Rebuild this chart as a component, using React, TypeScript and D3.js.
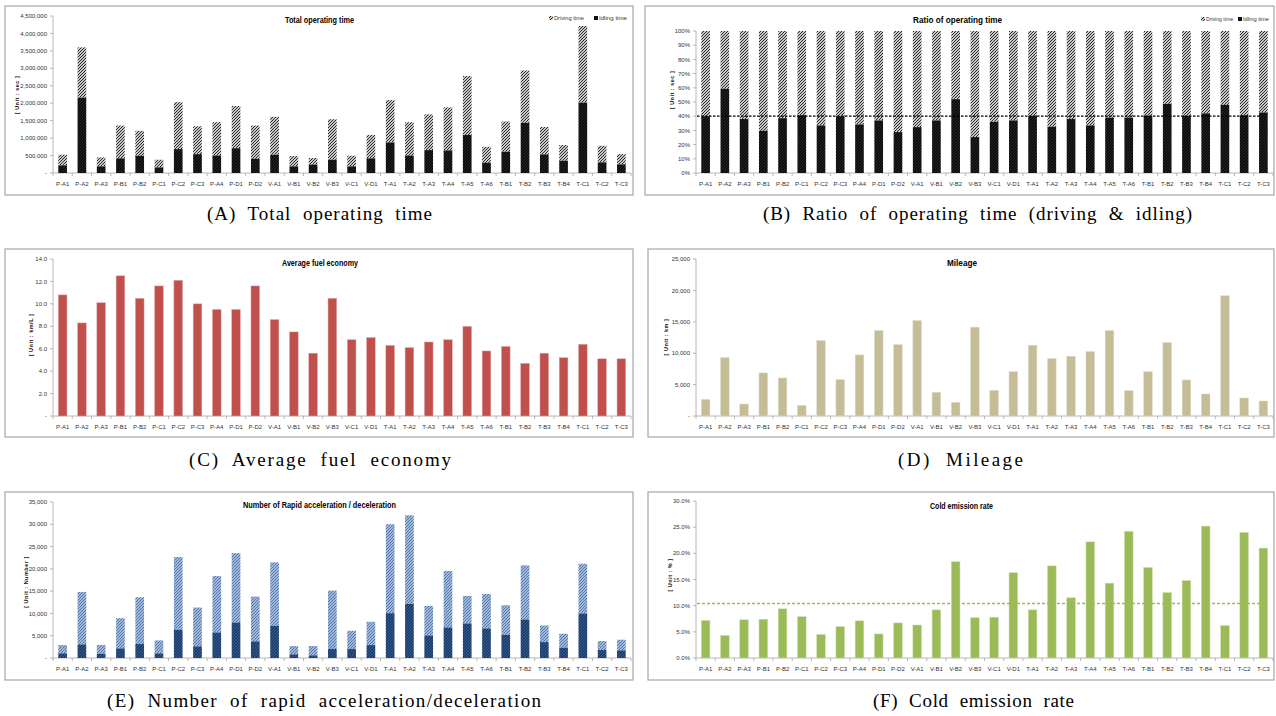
import React from "react";
import * as d3 from "d3";

// Vehicle identifiers along every x axis
const categories = [
  "P-A1", "P-A2", "P-A3", "P-B1", "P-B2", "P-C1", "P-C2", "P-C3", "P-A4", "P-D1", "P-D2",
  "V-A1", "V-B1", "V-B2", "V-B3", "V-C1", "V-D1",
  "T-A1", "T-A2", "T-A3", "T-A4", "T-A5", "T-A6", "T-B1", "T-B2", "T-B3", "T-B4", "T-C1", "T-C2", "T-C3",
];

// (A) total operating time [sec]: total = driving + idling
const totalTime = [
  523000, 3600000, 447000, 1360000, 1210000, 380000, 2030000, 1340000, 1456000, 1920000, 1360000,
  1610000, 485000, 430000, 1540000, 495000, 1090000,
  2090000, 1456000, 1680000, 1880000, 2780000, 750000, 1475000, 2940000, 1320000, 800000, 4215000, 780000, 542000,
];
const idlingTime = [
  219000, 2160000, 190000, 420000, 495000, 160000, 685000, 540000, 500000, 710000, 410000,
  523000, 190000, 240000, 380000, 190000, 420000,
  875000, 500000, 656000, 647000, 1090000, 295000, 610000, 1437000, 533000, 352000, 2017000, 305000, 247000,
];

// (B) idling share of operating time [%]
const idlingRatio = [
  40.0, 59.3, 38.0, 29.7, 38.6, 40.7, 33.5, 40.0, 34.2, 37.0, 28.8,
  32.3, 37.0, 52.0, 25.3, 36.0, 37.0,
  40.3, 32.6, 38.0, 33.5, 39.0, 39.0, 40.3, 48.7, 40.3, 42.0, 48.0, 40.7, 42.6,
];
const idlingRatioRef = 40;

// (C) average fuel economy [km/L]
const fuelEconomy = [
  10.8, 8.3, 10.1, 12.5, 10.5, 11.6, 12.1, 10.0, 9.5, 9.5, 11.6,
  8.6, 7.5, 5.6, 10.5, 6.8, 7.0,
  6.3, 6.1, 6.6, 6.8, 8.0, 5.8, 6.2, 4.7, 5.6, 5.2, 6.4, 5.1, 5.1,
];

// (D) mileage [km]
const mileage = [
  2660, 9310, 1915, 6860, 6060, 1700, 12020, 5800, 9730, 13620, 11380,
  15210, 3780, 2180, 14150, 4100, 7070,
  11280, 9150, 9520, 10270, 13620, 4040, 7070, 11700, 5740, 3510, 19150, 2870, 2390,
];

// (E) number of rapid acceleration / deceleration events
const rapidTotal = [
  2900, 14820, 2900, 8940, 13630, 3950, 22640, 11320, 18390, 23530, 13780,
  21450, 2680, 2680, 15120, 6110, 8120,
  30010, 32020, 11690, 19510, 13930, 14370, 11840, 20780, 7300, 5440, 21150, 3800, 4100,
];
const rapidLower = [
  1040, 3050, 970, 2160, 3130, 1040, 6330, 2610, 5730, 7970, 3720,
  7220, 820, 600, 2010, 2010, 2900,
  10050, 12140, 5060, 6850, 7750, 6630, 5210, 8640, 3570, 2310, 9980, 1790, 1710,
];

// (F) cold emission rate [%]
const coldEmission = [
  7.2, 4.3, 7.3, 7.4, 9.4, 7.9, 4.5, 6.0, 7.1, 4.6, 6.7,
  6.3, 9.2, 18.4, 7.7, 7.8, 16.3,
  9.2, 17.6, 11.5, 22.2, 14.3, 24.2, 17.3, 12.5, 14.8, 25.2, 6.2, 24.0, 21.0,
];
const coldEmissionAvg = 10.4;

const tickA = [0, 500000, 1000000, 1500000, 2000000, 2500000, 3000000, 3500000, 4000000, 4500000];
const tickB = [0, 10, 20, 30, 40, 50, 60, 70, 80, 90, 100];
const tickC = [0, 2, 4, 6, 8, 10, 12, 14];
const tickD = [0, 5000, 10000, 15000, 20000, 25000];
const tickE = [0, 5000, 10000, 15000, 20000, 25000, 30000, 35000];
const tickF = [0, 5, 10, 15, 20, 25, 30];

const FONT = "'Liberation Sans Narrow', 'Arial Narrow', 'Liberation Sans', Arial, sans-serif";
const SERIF = "'Liberation Serif', 'Times New Roman', serif";
const AXIS = "#a6a6a6";
const TXT = "#333";

const comma = d3.format(",");
const dashZero = (f: (v: number) => string) => (v: number) => (v === 0 ? "-" : f(v));

type PanelProps = {
  box: [number, number, number, number];
  xRange: [number, number];
  yBottom: number;
  yTop: number;
  max: number;
  ticks: number[];
  fmt: (v: number) => string;
  title: string;
  titleX0: number;
  titleX1: number;
  titleY: number;
  unit: string;
  unitX: number;
  unitY: number;
  children: (x: d3.ScaleBand<string>, y: d3.ScaleLinear<number, number>) => React.ReactNode;
};

function Panel(p: PanelProps) {
  const x = d3.scaleBand<string>().domain(categories).range(p.xRange).paddingInner(0.55).paddingOuter(0.275);
  const y = d3.scaleLinear().domain([0, p.max]).range([p.yBottom, p.yTop]);
  const [bx0, by0, bx1, by1] = p.box;
  const step = x.step();
  const x0 = p.xRange[0];
  return (
    <g>
      <rect x={bx0} y={by0} width={bx1 - bx0} height={by1 - by0} fill="#fff" stroke={AXIS} strokeWidth={1.2} />
      {/* y axis */}
      <line x1={x0} x2={x0} y1={p.yTop} y2={p.yBottom} stroke={AXIS} strokeWidth={0.8} />
      {p.ticks.map((t) => (
        <g key={t}>
          <line x1={x0 - 3} x2={x0} y1={y(t)} y2={y(t)} stroke={AXIS} strokeWidth={0.8} />
          <text x={x0 - 6} y={y(t)} dy="0.35em" textAnchor="end" fontSize={6} fill={TXT} fontFamily={FONT}>
            {p.fmt(t)}
          </text>
        </g>
      ))}
      {/* x axis */}
      <line x1={x0} x2={p.xRange[1]} y1={p.yBottom} y2={p.yBottom} stroke={AXIS} strokeWidth={0.8} />
      {d3.range(categories.length + 1).map((i) => (
        <line key={i} x1={x0 + i * step} x2={x0 + i * step} y1={p.yBottom} y2={p.yBottom + 3} stroke={AXIS} strokeWidth={0.8} />
      ))}
      {categories.map((c) => (
        <text key={c} x={(x(c) as number) + x.bandwidth() / 2} y={p.yBottom + 11} dy="0.35em" textAnchor="middle" fontSize={6} fill={TXT} fontFamily={FONT}>
          {c}
        </text>
      ))}
      {p.children(x, y)}
      <text
        x={p.titleX0}
        y={p.titleY}
        dy="0.35em"
        textLength={p.titleX1 - p.titleX0}
        lengthAdjust="spacingAndGlyphs"
        fontSize={9.5}
        fontWeight="bold"
        fill="#000"
        fontFamily={FONT}
      >
        {p.title}
      </text>
      <text
        transform={`translate(${p.unitX},${p.unitY}) rotate(-90)`}
        dy="0.35em"
        textAnchor="middle"
        fontSize={5.5}
        fontWeight="bold"
        letterSpacing={0.5}
        fill="#111"
        fontFamily={FONT}
      >
        {p.unit}
      </text>
    </g>
  );
}

function Legend({ x1, w1, x2, w2, y }: { x1: number; w1: number; x2: number; w2: number; y: number }) {
  return (
    <g fontFamily={FONT} fontSize={6} fill={TXT}>
      <rect x={x1} y={y - 2} width={4} height={4} fill="url(#pDrive)" />
      <text x={x1 + 5} y={y} dy="0.35em" textLength={w1} lengthAdjust="spacingAndGlyphs">Driving time</text>
      <rect x={x2} y={y - 2} width={4} height={4} fill="#111" />
      <text x={x2 + 5} y={y} dy="0.35em" textLength={w2} lengthAdjust="spacingAndGlyphs">Idling time</text>
    </g>
  );
}

const captions = [
  { text: "(A)  Total  operating  time", x0: 207, x1: 432, y: 213 },
  { text: "(B)  Ratio  of  operating  time  (driving  &  idling)", x0: 763, x1: 1192, y: 213 },
  { text: "(C)  Average  fuel  economy", x0: 189, x1: 451, y: 459 },
  { text: "(D)  Mileage", x0: 898, x1: 1023, y: 459 },
  { text: "(E)  Number  of  rapid  acceleration/deceleration", x0: 107, x1: 541, y: 700 },
  { text: "(F)  Cold  emission  rate", x0: 873, x1: 1074, y: 700 },
];

// diagonal hatch path for a 3px tile
const HATCH = "M-1,1 l2,-2 M0,3 l3,-3 M2,4 l2,-2";

export default function App() {
  const LEFT: [number, number] = [53, 631];
  const RIGHT: [number, number] = [696, 1273];
  return (
    <div style={{ position: "absolute", left: 0, top: 0, width: 1276, height: 716, background: "#fff" }}>
      <svg width={1276} height={716} style={{ display: "block" }}>
        <defs>
          <pattern id="pDrive" width={3} height={3} patternUnits="userSpaceOnUse">
            <rect width={3} height={3} fill="#c8c8c8" />
            <path d={HATCH} stroke="#2a2a2a" strokeWidth={1} />
          </pattern>
          <pattern id="pIdle" width={3} height={3} patternUnits="userSpaceOnUse">
            <rect width={3} height={3} fill="#0c0c0c" />
            <path d={HATCH} stroke="#3a3a3a" strokeWidth={0.6} />
          </pattern>
          <pattern id="pAccLight" width={3} height={3} patternUnits="userSpaceOnUse">
            <rect width={3} height={3} fill="#c6d4e9" />
            <path d={HATCH} stroke="#4a73ad" strokeWidth={1.1} />
          </pattern>
          <pattern id="pAccDark" width={3} height={3} patternUnits="userSpaceOnUse">
            <rect width={3} height={3} fill="#1d3d6a" />
            <path d={HATCH} stroke="#3d66a1" strokeWidth={0.8} />
          </pattern>
        </defs>

        {/* (A) Total operating time */}
        <Panel
          box={[5, 6, 633, 195]}
          xRange={LEFT}
          yBottom={173}
          yTop={16}
          max={4500000}
          ticks={tickA}
          fmt={dashZero(comma)}
          title="Total operating time"
          titleX0={285}
          titleX1={354}
          titleY={20}
          unit="[ Unit : sec ]"
          unitX={17}
          unitY={95}
        >
          {(x, y) =>
            categories.map((c, i) => (
              <g key={c}>
                <rect x={x(c)} width={x.bandwidth()} y={y(totalTime[i])} height={y(idlingTime[i]) - y(totalTime[i])} fill="url(#pDrive)" />
                <rect x={x(c)} width={x.bandwidth()} y={y(idlingTime[i])} height={y(0) - y(idlingTime[i])} fill="url(#pIdle)" />
              </g>
            ))
          }
        </Panel>
        <Legend x1={549} w1={30} x2={594} w2={28} y={18} />

        {/* (B) Ratio of operating time */}
        <Panel
          box={[645, 6, 1274, 195]}
          xRange={RIGHT}
          yBottom={173}
          yTop={31}
          max={100}
          ticks={tickB}
          fmt={(v) => `${v}%`}
          title="Ratio of operating time"
          titleX0={913}
          titleX1={1002}
          titleY={20}
          unit="[ Unit : sec ]"
          unitX={672}
          unitY={90}
        >
          {(x, y) => (
            <g>
              {categories.map((c, i) => (
                <g key={c}>
                  <rect x={x(c)} width={x.bandwidth()} y={y(100)} height={y(idlingRatio[i]) - y(100)} fill="url(#pDrive)" />
                  <rect x={x(c)} width={x.bandwidth()} y={y(idlingRatio[i])} height={y(0) - y(idlingRatio[i])} fill="url(#pIdle)" />
                </g>
              ))}
              <line x1={697} x2={1261} y1={y(idlingRatioRef)} y2={y(idlingRatioRef)} stroke="#000" strokeWidth={1.2} strokeDasharray="2.5,1.5" />
            </g>
          )}
        </Panel>
        <Legend x1={1201} w1={27} x2={1238} w2={26} y={19} />

        {/* (C) Average fuel economy */}
        <Panel
          box={[5, 249, 633, 437]}
          xRange={LEFT}
          yBottom={416}
          yTop={259}
          max={14}
          ticks={tickC}
          fmt={dashZero(d3.format(".1f"))}
          title="Average fuel economy"
          titleX0={282}
          titleX1={358}
          titleY={263}
          unit="[ Unit : km/L ]"
          unitX={31}
          unitY={335}
        >
          {(x, y) =>
            categories.map((c, i) => (
              <rect key={c} x={x(c)} width={x.bandwidth()} y={y(fuelEconomy[i])} height={y(0) - y(fuelEconomy[i])} fill="#c0504d" stroke="#e3a9a7" strokeWidth={0.5} />
            ))
          }
        </Panel>

        {/* (D) Mileage */}
        <Panel
          box={[648, 249, 1274, 437]}
          xRange={RIGHT}
          yBottom={416}
          yTop={259}
          max={25000}
          ticks={tickD}
          fmt={dashZero(comma)}
          title="Mileage"
          titleX0={947}
          titleX1={977}
          titleY={263}
          unit="[ Unit : km ]"
          unitX={666}
          unitY={337}
        >
          {(x, y) =>
            categories.map((c, i) => (
              <rect key={c} x={x(c)} width={x.bandwidth()} y={y(mileage[i])} height={y(0) - y(mileage[i])} fill="#c4bd97" stroke="#e2ddc8" strokeWidth={0.5} />
            ))
          }
        </Panel>

        {/* (E) Number of rapid acceleration / deceleration */}
        <Panel
          box={[5, 492, 633, 680]}
          xRange={LEFT}
          yBottom={658}
          yTop={502}
          max={35000}
          ticks={tickE}
          fmt={dashZero(comma)}
          title="Number of Rapid acceleration / deceleration"
          titleX0={243}
          titleX1={396}
          titleY={505}
          unit="[ Unit : Number ]"
          unitX={26}
          unitY={582}
        >
          {(x, y) =>
            categories.map((c, i) => (
              <g key={c}>
                <rect x={x(c)} width={x.bandwidth()} y={y(rapidTotal[i])} height={y(rapidLower[i]) - y(rapidTotal[i])} fill="url(#pAccLight)" />
                <rect x={x(c)} width={x.bandwidth()} y={y(rapidLower[i])} height={y(0) - y(rapidLower[i])} fill="url(#pAccDark)" />
              </g>
            ))
          }
        </Panel>

        {/* (F) Cold emission rate */}
        <Panel
          box={[648, 492, 1274, 680]}
          xRange={RIGHT}
          yBottom={658}
          yTop={501}
          max={30}
          ticks={tickF}
          fmt={(v) => `${v.toFixed(1)}%`}
          title="Cold emission rate"
          titleX0={930}
          titleX1={993}
          titleY={506}
          unit="[ Unit : % ]"
          unitX={670}
          unitY={575}
        >
          {(x, y) => (
            <g>
              {categories.map((c, i) => (
                <rect key={c} x={x(c)} width={x.bandwidth()} y={y(coldEmission[i])} height={y(0) - y(coldEmission[i])} fill="#9bbb59" stroke="#cfe0ad" strokeWidth={0.5} />
              ))}
              <line x1={697} x2={1261} y1={y(coldEmissionAvg)} y2={y(coldEmissionAvg)} stroke="#9bbb59" strokeWidth={1.6} strokeDasharray="3,2" />
            </g>
          )}
        </Panel>

        {captions.map((cp) => (
          <text
            key={cp.text}
            x={cp.x0}
            y={cp.y}
            dy="0.35em"
            textLength={cp.x1 - cp.x0}
            lengthAdjust="spacing"
            fontSize={19}
            fill="#000"
            fontFamily={SERIF}
            style={{ whiteSpace: "pre" }}
          >
            {cp.text}
          </text>
        ))}
      </svg>
    </div>
  );
}
